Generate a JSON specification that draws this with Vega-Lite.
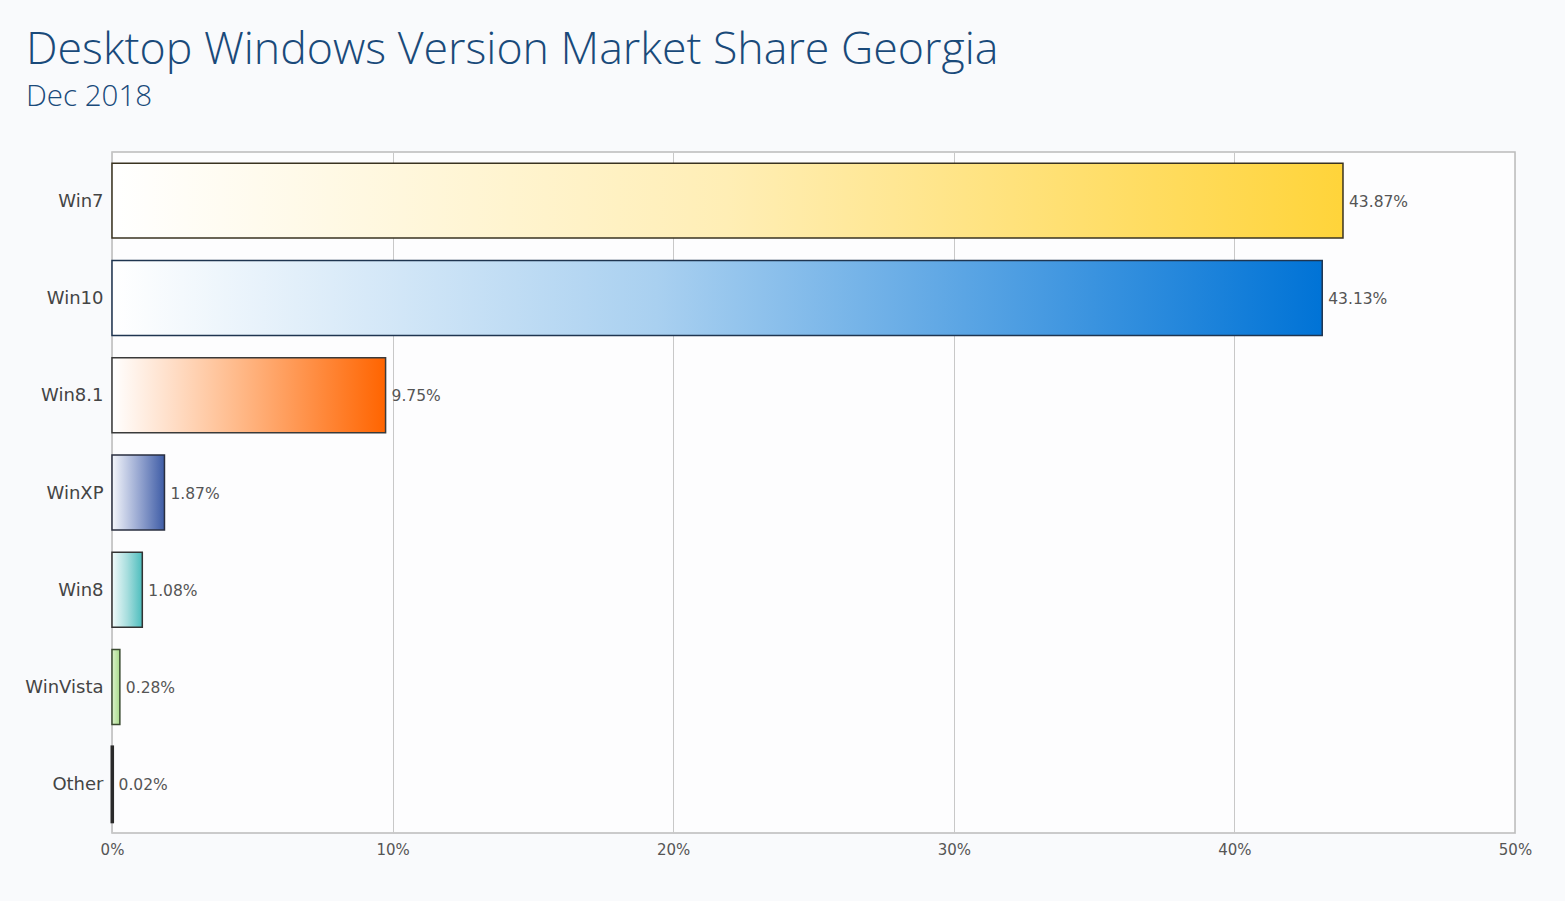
{
  "$schema": "https://vega.github.io/schema/vega-lite/v6.json",
  "width": 1403,
  "height": 681,
  "autosize": {"type": "none"},
  "padding": {"left": 112, "top": 152, "right": 50, "bottom": 68},
  "background": "#f9fafc",
  "title": {
    "text": "Desktop Windows Version Market Share Georgia",
    "subtitle": "Dec 2018",
    "anchor": "start",
    "frame": "group",
    "dx": -86,
    "offset": 40,
    "font": "Open Sans",
    "fontSize": 44.7,
    "fontWeight": 300,
    "color": "#1a4a7a",
    "subtitleFont": "Open Sans",
    "subtitleFontSize": 29.5,
    "subtitleFontWeight": 300,
    "subtitleColor": "#1a4a7a",
    "subtitlePadding": 9
  },
  "config": {
    "view": {"stroke": "#bbbbbb", "strokeWidth": 1.5, "fill": "#fdfdfe"},
    "axis": {"labelFont": "DejaVu Sans"}
  },
  "data": {
    "values": [
      {"os": "Win7", "share": 43.87},
      {"os": "Win10", "share": 43.13},
      {"os": "Win8.1", "share": 9.75},
      {"os": "WinXP", "share": 1.87},
      {"os": "Win8", "share": 1.08},
      {"os": "WinVista", "share": 0.28},
      {"os": "Other", "share": 0.02}
    ]
  },
  "transform": [
    {"calculate": "format(datum.share, '.2f') + '%'", "as": "label"}
  ],
  "encoding": {
    "y": {
      "field": "os",
      "type": "nominal",
      "sort": null,
      "scale": {"paddingInner": 0.23, "paddingOuter": 0.115},
      "axis": {
        "title": null,
        "ticks": false,
        "domain": false,
        "labelFontSize": 18,
        "labelColor": "#444444",
        "labelPadding": 9,
        "labelOffset": 1
      }
    },
    "x": {
      "field": "share",
      "type": "quantitative",
      "scale": {"domain": [0, 50], "nice": false},
      "axis": {
        "title": null,
        "values": [0, 10, 20, 30, 40, 50],
        "labelExpr": "datum.value + '%'",
        "ticks": false,
        "domain": false,
        "grid": true,
        "gridColor": "#c8c8c8",
        "gridWidth": 1,
        "labelFontSize": 15,
        "labelColor": "#555555",
        "labelPadding": 9,
        "labelFlush": false
      }
    }
  },
  "layer": [
    {
      "transform": [{"filter": "datum.os == 'Win7'"}],
      "mark": {"type": "bar", "stroke": "#3a3320", "strokeWidth": 1.5,
        "fill": {"gradient": "linear", "x1": 0, "y1": 0, "x2": 1, "y2": 0,
          "stops": [{"offset": 0, "color": "#ffffff"}, {"offset": 0.5, "color": "#ffeeb5"}, {"offset": 1, "color": "#ffd43a"}]}}
    },
    {
      "transform": [{"filter": "datum.os == 'Win10'"}],
      "mark": {"type": "bar", "stroke": "#1f3550", "strokeWidth": 1.5,
        "fill": {"gradient": "linear", "x1": 0, "y1": 0, "x2": 1, "y2": 0,
          "stops": [{"offset": 0, "color": "#ffffff"}, {"offset": 0.45, "color": "#a9d0f0"}, {"offset": 1, "color": "#0073d6"}]}}
    },
    {
      "transform": [{"filter": "datum.os == 'Win8.1'"}],
      "mark": {"type": "bar", "stroke": "#3a3a3a", "strokeWidth": 1.5,
        "fill": {"gradient": "linear", "x1": 0, "y1": 0, "x2": 1, "y2": 0,
          "stops": [{"offset": 0, "color": "#ffffff"}, {"offset": 0.45, "color": "#ffbb8c"}, {"offset": 1, "color": "#ff6400"}]}}
    },
    {
      "transform": [{"filter": "datum.os == 'WinXP'"}],
      "mark": {"type": "bar", "stroke": "#2a2f40", "strokeWidth": 1.5,
        "fill": {"gradient": "linear", "x1": 0, "y1": 0, "x2": 1, "y2": 0,
          "stops": [{"offset": 0, "color": "#f4f6fb"}, {"offset": 0.5, "color": "#9aa9d2"}, {"offset": 1, "color": "#3e5ca6"}]}}
    },
    {
      "transform": [{"filter": "datum.os == 'Win8'"}],
      "mark": {"type": "bar", "stroke": "#333333", "strokeWidth": 1.5,
        "fill": {"gradient": "linear", "x1": 0, "y1": 0, "x2": 1, "y2": 0,
          "stops": [{"offset": 0, "color": "#f2fbfb"}, {"offset": 0.5, "color": "#a8dede"}, {"offset": 1, "color": "#4cbdbd"}]}}
    },
    {
      "transform": [{"filter": "datum.os == 'WinVista'"}],
      "mark": {"type": "bar", "stroke": "#3a4a30", "strokeWidth": 1.5,
        "fill": {"gradient": "linear", "x1": 0, "y1": 0, "x2": 1, "y2": 0,
          "stops": [{"offset": 0, "color": "#dcf2cc"}, {"offset": 1, "color": "#a8d98a"}]}}
    },
    {
      "transform": [{"filter": "datum.os == 'Other'"}],
      "mark": {"type": "bar", "stroke": "#2a2a2a", "strokeWidth": 3, "fill": "#333333"}
    },
    {
      "mark": {"type": "text", "align": "left", "baseline": "middle", "dx": 6, "dy": 1, "font": "DejaVu Sans", "fontSize": 15.5, "color": "#555555"},
      "encoding": {"text": {"field": "label"}}
    }
  ]
}
